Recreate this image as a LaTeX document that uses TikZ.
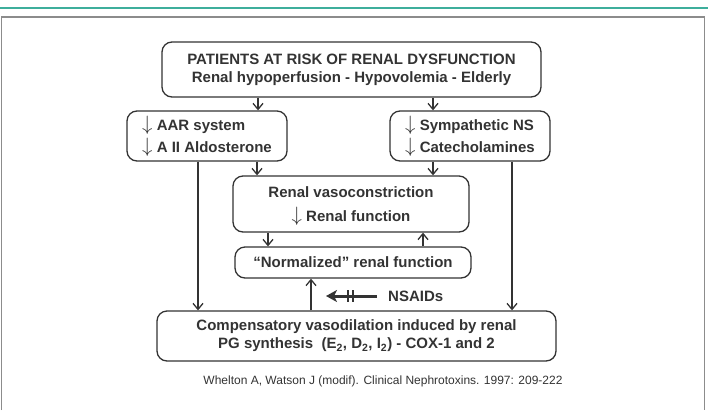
\documentclass[tikz,border=0pt]{standalone}
\usepackage{fontspec}
\setmainfont{Liberation Sans}
\usetikzlibrary{arrows.meta}

\definecolor{ink}{HTML}{333333}
\definecolor{rulecol}{HTML}{3DAE9C}
\definecolor{framecol}{HTML}{8C8C8C}

\newcommand{\dnarrow}{\smash{\raisebox{-0.5pt}{\fontsize{21}{21}\selectfont$\downarrow$}}}

\begin{document}
\begin{tikzpicture}[
  x=1pt, y=-1pt,
  box/.style={draw=ink, line width=1.3pt, rounded corners=10pt, align=center, text=ink, inner sep=0pt, font=\fontsize{15}{18}\selectfont\bfseries},
  sidebox/.style={box, align=left, minimum width=160pt, minimum height=50pt, font=\fontsize{15}{22}\selectfont\bfseries},
  arrow/.style={draw=ink, line width=1.3pt, -{Straight Barb[length=6pt,width=10pt]}},
  blockarrow/.style={draw=ink, line width=3pt, -{Stealth[length=11pt,width=12pt,inset=3pt]}},
  cite/.style={text=ink, font=\fontsize{12}{14}\selectfont}
]
  \useasboundingbox (0,0) rectangle (708,410);

  % page rule and frame
  \draw[rulecol, line width=2pt] (0,8) -- (708,8);
  \draw[framecol, line width=1.2pt] (1.5,410) -- (1.5,17) -- (704.5,17) -- (704.5,410);

  \node[box, minimum width=379pt, minimum height=55pt] (risk) at (351.5,69.5) {PATIENTS AT RISK OF RENAL DYSFUNCTION\\Renal hypoperfusion - Hypovolemia - Elderly};
  \node[sidebox] (aar) at (207,136) {\dnarrow\ AAR system\\\dnarrow\ A II Aldosterone};
  \node[sidebox] (symp) at (470,136) {\dnarrow\ Sympathetic NS\\\dnarrow\ Catecholamines};
  \node[box, minimum width=236pt, minimum height=56pt, font=\fontsize{15}{24}\selectfont\bfseries] (vaso) at (351,204) {Renal vasoconstriction\\\dnarrow\ Renal function};
  \node[box, minimum width=236pt, minimum height=31pt] (norm) at (353,262.5) {``Normalized'' renal function};
  \node[box, minimum width=399pt, minimum height=50pt] (comp) at (356.5,336) {Compensatory vasodilation induced by renal\\PG synthesis\ \ (E\textsubscript{2}, D\textsubscript{2}, I\textsubscript{2}) - COX-1 and 2};
  \node[text=ink, font=\fontsize{15}{18}\selectfont\bfseries, anchor=west, inner xsep=11pt, inner ysep=0pt] (nsaids) at (377,296) {NSAIDs};
  \node[cite] (src) at (383,381) {Whelton A, Watson J (modif). Clinical Nephrotoxins. 1997: 209-222};
  \coordinate (nsend) at (326,296);

  % connectors
  \draw[arrow] (risk.south -| 258,0) -- (aar.north -| 258,0);
  \draw[arrow] (risk.south -| 433,0) -- (symp.north -| 433,0);
  \draw[arrow] (aar.south -| 257,0) -- (vaso.north -| 257,0);
  \draw[arrow] (symp.south -| 433,0) -- (vaso.north -| 433,0);
  \draw[arrow] (aar.south -| 198,0) -- (comp.north -| 198,0);
  \draw[arrow] (symp.south -| 512,0) -- (comp.north -| 512,0);
  \draw[arrow] (vaso.south -| 268,0) -- (norm.north -| 268,0);
  \draw[arrow] (norm.north -| 423,0) -- (vaso.south -| 423,0);
  \draw[arrow] (comp.north -| 311,0) -- (norm.south -| 311,0);

  % blocked NSAIDs arrow
  \draw[blockarrow] (nsaids.west) -- (nsend);
  \draw[ink, line width=2pt] (348,290) -- (348,302) (352.5,290) -- (352.5,302);
\end{tikzpicture}
\end{document}
